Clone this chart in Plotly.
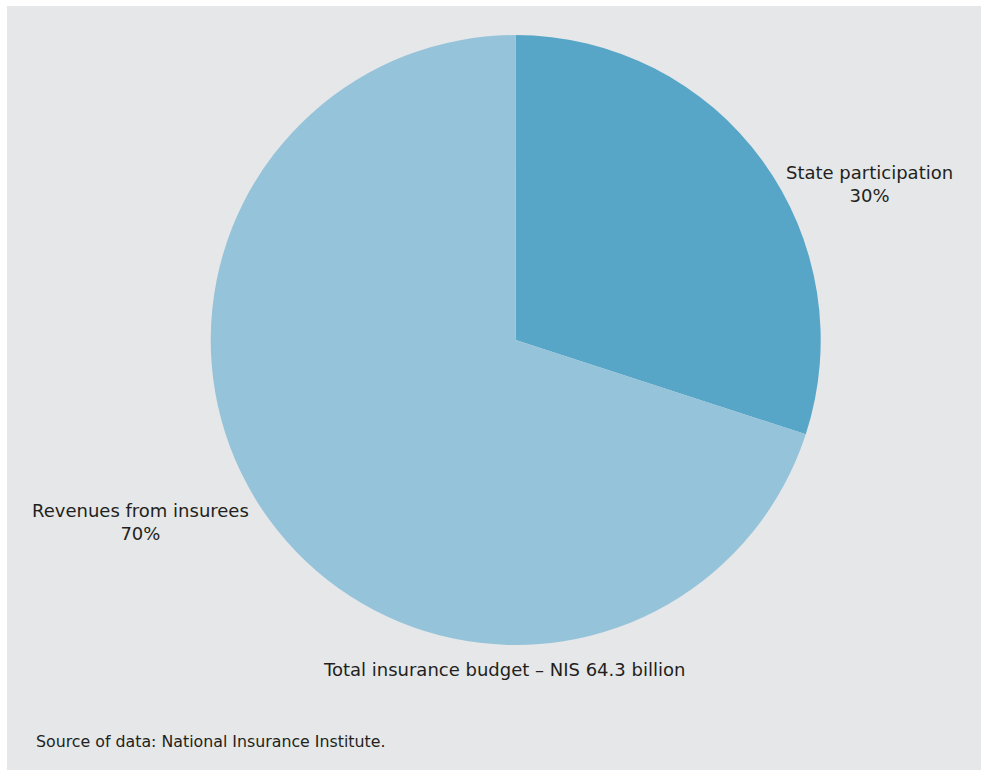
import plotly.graph_objects as go

# Financing sources of the national insurance budget
labels = ["State participation", "Revenues from insurees"]
shares = [30, 70]
colors = ["#57a5c7", "#95c3da"]
budget_note = "Total insurance budget – NIS 64.3 billion"
source_note = "Source of data: National Insurance Institute."

W, H = 981, 770
FONT = "DejaVu Sans"
TEXT_COLOR = "#231f20"

fig = go.Figure(
    go.Pie(
        labels=labels,
        values=shares,
        marker=dict(colors=colors, line=dict(width=0)),
        sort=False,
        direction="clockwise",
        rotation=0,
        textinfo="none",
        hoverinfo="label+percent",
        showlegend=False,
        domain=dict(x=[0.2148, 0.8366], y=[0.1623, 0.9545]),
    )
)

# grey panel behind the chart
fig.add_shape(
    type="rect", xref="paper", yref="paper",
    x0=7 / W, x1=1.0, y0=0.0, y1=1 - 6 / H,
    fillcolor="#e6e7e8", line=dict(width=0), layer="below",
)

def px_x(x):
    return x / W

def px_y(y):
    return 1 - y / H

annotations = [
    dict(x=px_x(869), y=px_y(184), text=f"{labels[0]}<br>{shares[0]}%",
         xanchor="center", yanchor="middle", align="center"),
    dict(x=px_x(140), y=px_y(522), text=f"{labels[1]}<br>{shares[1]}%",
         xanchor="center", yanchor="middle", align="center"),
    dict(x=px_x(504), y=px_y(669), text=budget_note,
         xanchor="center", yanchor="middle", align="center"),
    dict(x=px_x(34), y=px_y(741), text=source_note,
         xanchor="left", yanchor="middle", align="left",
         font=dict(size=15.8, family=FONT, color=TEXT_COLOR)),
]
for a in annotations:
    a.setdefault("font", dict(size=18, family=FONT, color=TEXT_COLOR))
    a.update(xref="paper", yref="paper", showarrow=False)

fig.update_layout(
    width=W, height=H,
    margin=dict(l=0, r=0, t=0, b=0),
    paper_bgcolor="white",
    annotations=annotations,
)

fig.write_html("out.html")
